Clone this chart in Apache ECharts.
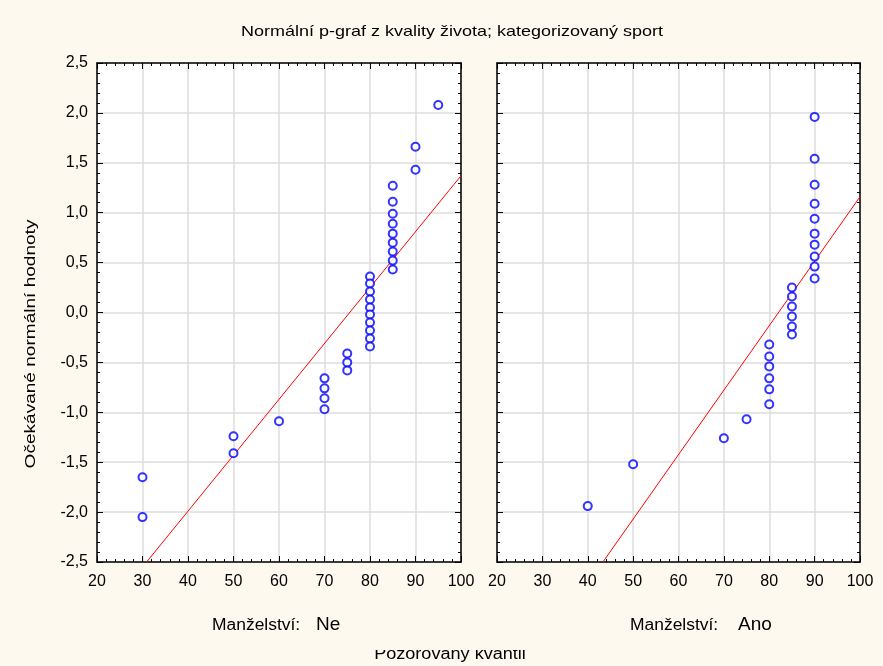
<!DOCTYPE html>
<html>
<head>
<meta charset="utf-8">
<script src="https://cdn.jsdelivr.net/npm/echarts@6/dist/echarts.min.js"></script>
<style>
  html, body { margin: 0; padding: 0; background: #fef9ef; }
  #main { width: 883px; height: 666px; }
</style>
</head>
<body>
<div id="main"></div>
<script>
// Manželství: Ne
var neX = [95, 90, 90,
  85, 85, 85, 85, 85, 85, 85, 85, 85,
  80, 80, 80, 80, 80, 80, 80, 80, 80, 80,
  75, 75, 75, 70, 70, 70, 70, 60, 50, 50, 30, 30];
var neY = [2.08, 1.66, 1.43,
  1.27, 1.11, 0.99, 0.89, 0.79, 0.70, 0.61, 0.52, 0.43,
  0.36, 0.29, 0.21, 0.13, 0.05, -0.02, -0.10, -0.18, -0.26, -0.34,
  -0.41, -0.50, -0.58, -0.66, -0.76, -0.86, -0.97, -1.09, -1.24, -1.41, -1.65, -2.05];
var neFitX = [30.9, 100];
var neFitY = [-2.5, 1.37];

// Manželství: Ano
var anoX = [90, 90, 90, 90, 90, 90, 90, 90, 90, 90,
  85, 85, 85, 85, 85, 85,
  80, 80, 80, 80, 80, 80,
  75, 70, 50, 40];
var anoY = [1.96, 1.54, 1.28, 1.09, 0.94, 0.79, 0.68, 0.56, 0.46, 0.34,
  0.25, 0.16, 0.06, -0.04, -0.14, -0.22,
  -0.32, -0.44, -0.54, -0.66, -0.77, -0.92,
  -1.07, -1.26, -1.52, -1.94];
var anoFitX = [43.35, 100];
var anoFitY = [-2.5, 1.16];

var xTicks = [20, 30, 40, 50, 60, 70, 80, 90, 100];
var yTicks = [-2.5, -2.0, -1.5, -1.0, -0.5, 0.0, 0.5, 1.0, 1.5, 2.0, 2.5];

function pairs(xs, ys) {
  var out = [];
  for (var i = 0; i < xs.length; i++) out.push([xs[i], ys[i]]);
  return out;
}

var font = 'Liberation Sans, Arial, sans-serif';
var bg = '#fef9ef';

function xAx(grid, pos, labels) {
  return {
    type: 'value', gridIndex: grid, position: pos,
    min: xTicks[0], max: xTicks[xTicks.length - 1], interval: 10,
    axisLine: { show: true, onZero: false, lineStyle: { color: '#000', width: 1.5 } },
    axisTick: { show: true, inside: true, length: 6, lineStyle: { color: '#000' } },
    minorTick: { show: true, splitNumber: 5, length: 3, lineStyle: { color: '#000' } },
    splitLine: { show: labels, lineStyle: { color: '#dcdcdc', width: 1.5 } },
    axisLabel: { show: labels, color: '#000', fontSize: 16, fontFamily: font, margin: 12 }
  };
}
function yAx(grid, pos, labels, split) {
  return {
    type: 'value', gridIndex: grid, position: pos,
    min: yTicks[0], max: yTicks[yTicks.length - 1], interval: 0.5,
    axisLine: { show: true, onZero: false, lineStyle: { color: '#000', width: 1.5 } },
    axisTick: { show: true, inside: true, length: 6, lineStyle: { color: '#000' } },
    minorTick: { show: true, splitNumber: 5, length: 3, lineStyle: { color: '#000' } },
    splitLine: { show: split, lineStyle: { color: '#dcdcdc', width: 1.5 } },
    axisLabel: {
      show: labels, color: '#000', fontSize: 16, fontFamily: font, margin: 9,
      formatter: function (v) { return v.toFixed(1).replace('.', ','); }
    }
  };
}

var chart = echarts.init(document.getElementById('main'));
chart.setOption({
  backgroundColor: bg,
  animation: false,
  grid: [
    { left: 97, top: 63, width: 364, height: 499, show: true, backgroundColor: '#fff', borderWidth: 0 },
    { left: 497, top: 63, width: 363, height: 499, show: true, backgroundColor: '#fff', borderWidth: 0 }
  ],
  xAxis: [xAx(0, 'bottom', true), xAx(0, 'top', false), xAx(1, 'bottom', true), xAx(1, 'top', false)],
  yAxis: [yAx(0, 'left', true, true), yAx(0, 'right', false, false), yAx(1, 'left', false, true), yAx(1, 'right', false, false)],
  series: [
    { type: 'line', xAxisIndex: 0, yAxisIndex: 0, data: pairs(neFitX, neFitY), symbol: 'none',
      lineStyle: { color: '#ff0000', width: 1 }, z: 3 },
    { type: 'scatter', xAxisIndex: 0, yAxisIndex: 0, data: pairs(neX, neY), symbol: 'emptyCircle', symbolSize: 8,
      itemStyle: { color: '#0000ff', borderColor: '#0000ff', borderWidth: 1.5 }, z: 4 },
    { type: 'line', xAxisIndex: 2, yAxisIndex: 2, data: pairs(anoFitX, anoFitY), symbol: 'none',
      lineStyle: { color: '#ff0000', width: 1 }, z: 3 },
    { type: 'scatter', xAxisIndex: 2, yAxisIndex: 2, data: pairs(anoX, anoY), symbol: 'emptyCircle', symbolSize: 8,
      itemStyle: { color: '#0000ff', borderColor: '#0000ff', borderWidth: 1.5 }, z: 4 }
  ],
  graphic: [
    { type: 'text', x: 452, y: 32, scaleX: 1.2, style: {
      text: 'Normální p-graf z kvality života; kategorizovaný sport', fill: '#000', font: '15px ' + font,
      align: 'center', verticalAlign: 'middle' } },
    { type: 'text', x: 31, y: 344, rotation: Math.PI / 2, scaleX: 1.27, style: {
      text: 'Očekávané normální hodnoty', fill: '#000', font: '15px ' + font, align: 'center', verticalAlign: 'middle' } },
    { type: 'text', x: 212, y: 626, scaleX: 1.09, style: {
      text: 'Manželství:', fill: '#000', font: '16px ' + font, verticalAlign: 'middle' } },
    { type: 'text', x: 316, y: 625, style: {
      text: 'Ne', fill: '#000', font: '19px ' + font, verticalAlign: 'middle' } },
    { type: 'text', x: 630, y: 626, scaleX: 1.09, style: {
      text: 'Manželství:', fill: '#000', font: '16px ' + font, verticalAlign: 'middle' } },
    { type: 'text', x: 738, y: 625, style: {
      text: 'Ano', fill: '#000', font: '19px ' + font, verticalAlign: 'middle' } },
    { type: 'text', x: 450, y: 655, scaleX: 1.13, style: {
      text: 'Pozorovaný kvantil', fill: '#000', font: '16px ' + font, align: 'center', verticalAlign: 'middle' } },
    // the lower caption is cut off at its top in the original
    { type: 'rect', shape: { x: 360, y: 636, width: 180, height: 14 }, style: { fill: bg }, z: 100 }
  ]
});
</script>
</body>
</html>
